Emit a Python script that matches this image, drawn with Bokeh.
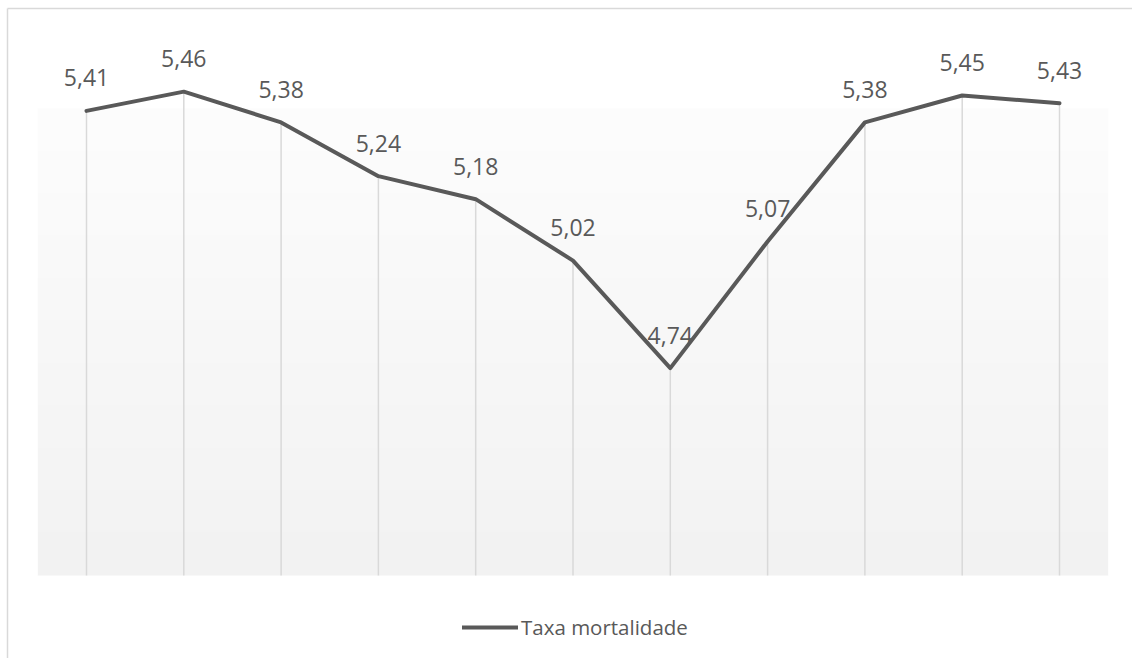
import numpy as np
from bokeh.plotting import figure
from bokeh.models import Range1d, Legend, LegendItem, ColumnDataSource
from bokeh.core.properties import value
from bokeh.embed import file_html
from bokeh.resources import INLINE

# ---- data ----
pontos = list(range(1, 12))
taxa_mortalidade = [5.41, 5.46, 5.38, 5.24, 5.18, 5.02, 4.74, 5.07, 5.38, 5.45, 5.43]
rotulos = [f"{v:.2f}".replace(".", ",") for v in taxa_mortalidade]
serie_nome = "Taxa mortalidade"
eixo_min = 4.2

# ---- layout (pixels) ----
W, H = 1132, 658
X1_PX, STEP_PX = 86.0, 97.3        # pixel of first category, category spacing
Y_MIN_PX, PX_PER_UNIT = 575.0, 384.0  # pixel of axis minimum, pixels per unit
PLOT_TOP_PX = 108.0

x_start = 1 - X1_PX / STEP_PX
x_end = 1 + (W - X1_PX) / STEP_PX
y_start = eixo_min - (H - Y_MIN_PX) / PX_PER_UNIT
y_end = eixo_min + Y_MIN_PX / PX_PER_UNIT

def px2x(px):
    return x_start + px / STEP_PX

def px2y(py):
    return y_end - py / PX_PER_UNIT

p = figure(width=W, height=H, output_backend="svg", toolbar_location=None,
           x_range=Range1d(x_start, x_end), y_range=Range1d(y_start, y_end),
           x_axis_location=None, y_axis_location=None, min_border=0)
p.outline_line_color = None
p.xgrid.visible = False
p.ygrid.visible = False
p.background_fill_color = "white"
p.border_fill_color = "white"

# plot-area gradient background
top_val = px2y(PLOT_TOP_PX)
n = 400
t = np.linspace(0, 1, n)
g = (242 + (253 - 242) * t).astype(np.uint32)
img = np.empty((n, 1), dtype=np.uint32)
view = img.view(dtype=np.uint8).reshape((n, 1, 4))
view[:, :, 0] = g[:, None]
view[:, :, 1] = g[:, None]
view[:, :, 2] = g[:, None]
view[:, :, 3] = 255
p.image_rgba(image=[img], x=0.5, y=eixo_min, dw=len(pontos), dh=top_val - eixo_min)

# outer chart border (top and left visible)
p.segment(x0=[px2x(7), px2x(7)], y0=[px2y(8), px2y(8)],
          x1=[px2x(W + 5), px2x(7)], y1=[px2y(8), px2y(H + 5)],
          line_color="#d9d9d9", line_width=1.5)

src = ColumnDataSource(dict(x=pontos, y=taxa_mortalidade, lab=rotulos,
                            base=[eixo_min] * len(pontos)))

# drop lines
p.segment(x0="x", y0="base", x1="x", y1="y", source=src,
          line_color="#d9d9d9", line_width=1.5)

# series line
r = p.line(x="x", y="y", source=src, line_color="#595959", line_width=4,
           line_join="round", line_cap="round")

# data labels
p.text(x="x", y="y", text="lab", source=src, y_offset=-33,
       text_align="center", text_baseline="middle",
       text_font=value("Open Sans"), text_font_size="23px", text_color="#595959")

legend = Legend(items=[LegendItem(label=serie_nome, renderers=[r])],
                location=(462, 17), orientation="horizontal",
                glyph_width=56, glyph_height=20, label_standoff=3,
                padding=0, margin=0, spacing=0,
                label_text_font="Open Sans", label_text_font_size="20.5px",
                label_text_color="#595959",
                border_line_color=None, background_fill_alpha=0)
p.add_layout(legend)

open("out.html", "w").write(file_html(p, INLINE))
